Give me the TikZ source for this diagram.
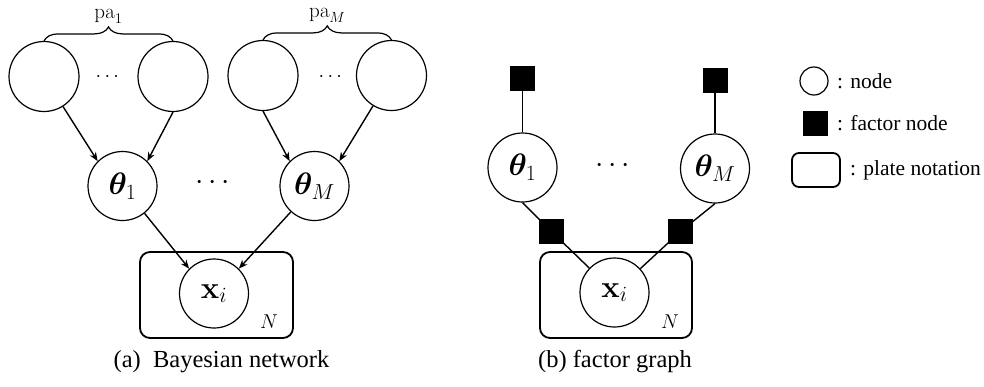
\RequirePackage{fix-cm}
\documentclass[tikz,border=0pt]{standalone}
\usepackage{amsmath,bm}
\usepackage[no-math]{fontspec}
\setmainfont{Liberation Serif}
\usetikzlibrary{arrows.meta,decorations.pathreplacing,calc}

\begin{document}
\begin{tikzpicture}[x=1pt,y=-1pt,
  var/.style={circle,draw,line width=1.2pt,inner sep=0pt,minimum size=69pt,
              font=\fontsize{31}{36}\selectfont},
  parent/.style={circle,draw,line width=1.2pt,inner sep=0pt,minimum size=70pt},
  fac/.style={rectangle,fill=black,draw=black,inner sep=0pt,minimum size=24pt},
  plate/.style={rectangle,draw,rounded corners=10pt,line width=1.8pt,inner sep=0pt},
  arr/.style={-{Stealth[length=9pt,width=7pt]},line width=1.4pt},
  lnk/.style={line width=1.4pt},
  dots/.style={inner sep=0pt},
  lbl/.style={inner sep=0pt,font=\fontsize{20}{24}\selectfont},
  palbl/.style={inner sep=0pt,font=\fontsize{21}{25}\selectfont},
  captiontext/.style={inner sep=0pt,font=\rmfamily\fontsize{24.5}{28}\selectfont},
  leg/.style={inner sep=0pt,anchor=west,font=\rmfamily\fontsize{21.5}{25}\selectfont},
  bracestyle/.style={decorate,decoration={brace,amplitude=14pt},line width=1.2pt}
]
\useasboundingbox (0,0) rectangle (984,386);

% ---------- (a) Bayesian network ----------
\node[plate,minimum width=153pt,minimum height=86pt] (plA) at (216.5,295) {};
\node[parent] (p1) at (44,76.5) {};
\node[parent] (p2) at (173,76.5) {};
\node[parent] (p3) at (263,75.5) {};
\node[parent] (p4) at (391.5,75.5) {};
\node[dots,font=\fontsize{20}{24}\selectfont] (d1) at (109,77) {$\cdots$};
\node[dots,font=\fontsize{20}{24}\selectfont] (d2) at (332,77) {$\cdots$};

\draw[bracestyle] (p1.north) -- (p2.north);
\draw[bracestyle] (p3.north) -- (p4.north);
\node[palbl] (pa1) at ($(p1.north)!0.5!(p2.north)+(0,-24.5)$) {$\mathrm{pa}_1$};
\node[palbl] (paM) at ($(p3.north)!0.5!(p4.north)+(0,-24.5)$) {$\mathrm{pa}_M$};

\node[var] (t1) at (122.5,186) {$\bm{\theta}_1$};
\node[var] (tM) at (314.5,186) {$\bm{\theta}_M$};
\node[dots,font=\fontsize{30}{36}\selectfont] (d3) at (215,183) {$\cdots$};

\node[var] (xA) at (214,293.5) {$\mathbf{x}_i$};
\node[lbl,anchor=center] (nA) at (269,322) {$N$};

\draw[arr] (p1) -- (t1.north west);
\draw[arr] (p2.south) -- (t1.north east);
\draw[arr] (p3.south) -- (tM.north west);
\draw[arr] (p4) -- (tM.north east);
\draw[arr] (t1) -- (xA.north west);
\draw[arr] (tM) -- (xA.north east);

\node[captiontext] (capA) at (221.5,362) {(a)~~Bayesian network};

% ---------- (b) factor graph ----------
\node[plate,minimum width=152pt,minimum height=86pt] (plB) at (616,295) {};
\node[var] (s1) at (522.5,167.5) {$\bm{\theta}_1$};
\node[var] (sM) at (715,168.5) {$\bm{\theta}_M$};
\node[dots,font=\fontsize{30}{36}\selectfont] (d4) at (615,166) {$\cdots$};
\node[var] (xB) at (614.5,292.5) {$\mathbf{x}_i$};
\node[lbl] (nB) at (670,322) {$N$};

\draw[lnk] (s1.north) -- (522.5,78) coordinate (c1);
\draw[lnk] (sM.north) -- (715,80) coordinate (c2);
\node[fac] (f1) at (c1) {};
\node[fac] (f2) at (c2) {};

\node[fac] (f3) at (551.5,231.5) {};
\node[fac] (f4) at (680.5,231.5) {};
\draw[lnk] (s1.south) -- (f3.center);
\draw[lnk] (f3.center) -- (xB);
\draw[lnk] (sM.south) -- (f4.center);
\draw[lnk] (f4.center) -- (xB);
\node[fac] at (f3) {};
\node[fac] at (f4) {};

\node[captiontext] (capB) at (615,362) {(b) factor graph};

% ---------- legend ----------
\node[circle,draw,line width=1.2pt,inner sep=0pt,minimum size=28pt] (lg1) at (814,81) {};
\node[leg] (lt1) at (837,81) {: node};
\node[fac] (lg2) at (815,123) {};
\node[leg] (lt2) at (837,123) {: factor node};
\node[plate,rounded corners=7pt,minimum width=48pt,minimum height=34pt] (lg3) at (816,170) {};
\node[leg] (lt3) at (850,170) {: plate notation};
\end{tikzpicture}
\end{document}
